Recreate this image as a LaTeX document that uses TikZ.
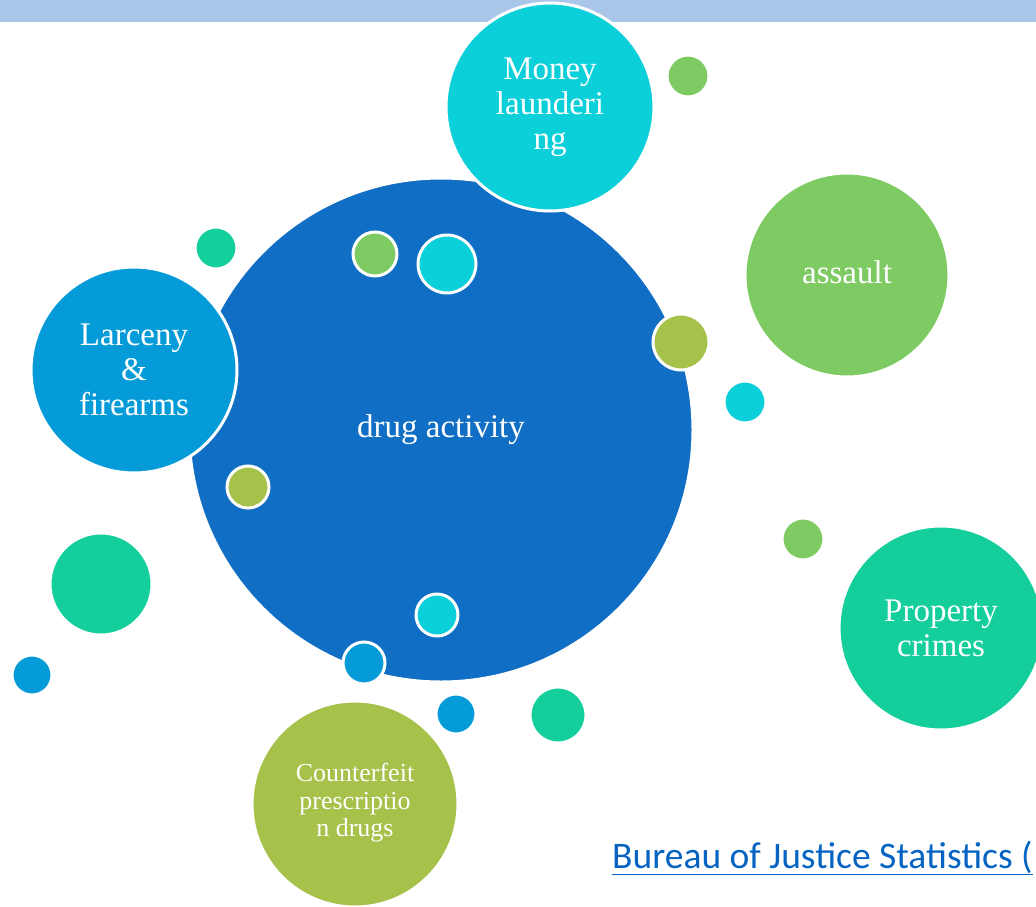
\documentclass[tikz,border=0pt]{standalone}
\usepackage{fontspec}
\setmainfont{Liberation Serif}
\newfontfamily\linkfont{Carlito}
\definecolor{bandblue}{HTML}{A9C6E9}
\definecolor{bigblue}{HTML}{106EC5}
\definecolor{cyanc}{HTML}{0CD0D9}
\definecolor{greenc}{HTML}{7FCB63}
\definecolor{olivec}{HTML}{A6C24A}
\definecolor{tealc}{HTML}{14CF9B}
\definecolor{bluec}{HTML}{049BD8}
\definecolor{linkblue}{HTML}{0563C1}
\begin{document}
\begin{tikzpicture}[x=1pt,y=-1pt,
  bub/.style={circle,draw=white,line width=3pt,inner sep=0pt},
  lbl/.style={text=white,align=center,font=\fontsize{33}{35}\selectfont}]
\useasboundingbox (0,0) rectangle (1036,907);
\clip (0,0) rectangle (1036,907);
\fill[bandblue] (0,0) rectangle (1036,22);
% main circle
\node[bub,fill=bigblue,minimum size=504pt] (drug) at (441,430) {};
\node[lbl] at (drug.center) {drug activity};
% satellites
\node[bub,fill=cyanc,minimum size=208pt] (money) at (550,107) {};
\node[lbl] at (550,107) {Money\\launderi\\ng};
\node[bub,fill=greenc,minimum size=42pt] (s1) at (688,76) {};
\node[bub,fill=greenc,minimum size=204pt] (assault) at (847,275) {};
\node[lbl,font=\fontsize{33}{35}\selectfont] at (847,272) {assault};
\node[bub,fill=olivec,minimum size=56pt] (s2) at (681,342) {};
\node[bub,fill=cyanc,minimum size=42pt] (s3) at (745,402) {};
\node[bub,fill=greenc,minimum size=42pt] (s4) at (803,539) {};
\node[bub,fill=tealc,minimum size=204pt] (prop) at (941,628) {};
\node[lbl] at (941,628) {Property\\crimes};
\node[bub,fill=bluec,minimum size=206pt] (larc) at (134,370) {};
\node[lbl] at (134,370) {Larceny\\\&\\firearms};
\node[bub,fill=tealc,minimum size=42pt] (s5) at (216,248) {};
\node[bub,fill=greenc,minimum size=44pt] (s6) at (375,254) {};
\node[bub,fill=cyanc,minimum size=58pt] (s7) at (447,264) {};
\node[bub,fill=olivec,minimum size=42pt] (s8) at (248,487) {};
\node[bub,fill=tealc,minimum size=102pt] (s9) at (101,584) {};
\node[bub,fill=bluec,minimum size=40pt] (s10) at (32,675) {};
\node[bub,fill=cyanc,minimum size=42pt] (s11) at (437,615) {};
\node[bub,fill=bluec,minimum size=42pt] (s12) at (364,663) {};
\node[bub,fill=bluec,minimum size=40pt] (s13) at (456,714) {};
\node[bub,fill=tealc,minimum size=56pt] (s14) at (558,715) {};
\node[bub,fill=olivec,minimum size=206pt] (counter) at (355,804) {};
\node[lbl,font=\fontsize{26}{27.5}\selectfont] at (355,803) {Counterfeit\\prescriptio\\n drugs};
% link text
\node[anchor=base west,inner sep=0pt,text=linkblue,font=\linkfont\fontsize{37.5}{40}\selectfont] (link) at (612,868) {\underline{Bureau of Justice Statistics (}};
\end{tikzpicture}
\end{document}
